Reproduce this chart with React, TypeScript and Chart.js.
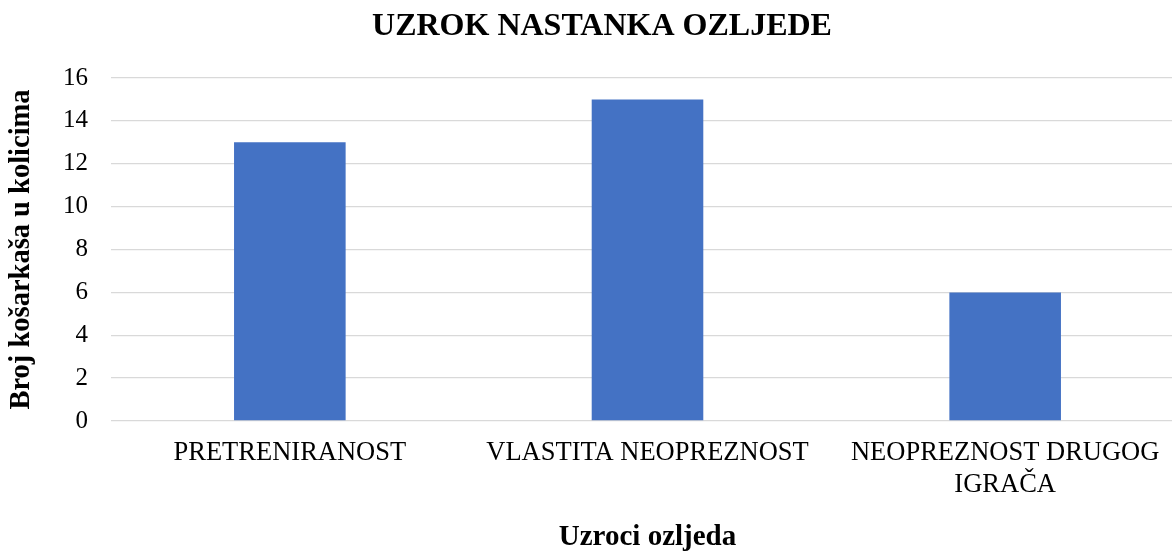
import React, { useEffect, useRef } from "react";
import { Chart, registerables } from "chart.js";

Chart.register(...registerables);

const categories: (string | string[])[] = [
  "PRETRENIRANOST",
  "VLASTITA NEOPREZNOST",
  ["NEOPREZNOST DRUGOG", "IGRAČA"],
];
const values: number[] = [13, 15, 6];
const yTicks = { min: 0, max: 16, step: 2 };
const chartTitle = "UZROK NASTANKA OZLJEDE";
const xTitle = "Uzroci ozljeda";
const yTitle = "Broj košarkaša u kolicima";

const FONT = '"Liberation Serif", "Times New Roman", serif';
const W = 1206;
const H = 554;

export default function App() {
  const ref = useRef<HTMLCanvasElement | null>(null);

  useEffect(() => {
    if (!ref.current) return;
    const chart = new Chart(ref.current, {
      type: "bar",
      data: {
        labels: categories,
        datasets: [
          {
            data: values,
            backgroundColor: "#4472C4",
            borderWidth: 0,
            categoryPercentage: 1,
            barPercentage: 0.312,
          },
        ],
      },
      options: {
        responsive: false,
        animation: false,
        layout: { padding: { left: 20, right: 22, top: 0, bottom: 0 } },
        plugins: {
          legend: { display: false },
          tooltip: { enabled: false },
          title: {
            display: true,
            text: chartTitle,
            color: "#000",
            font: { family: FONT, size: 32, weight: "bold", lineHeight: 1.2 },
            padding: { top: 8, bottom: 31.6 },
          },
        },
        scales: {
          x: {
            grid: { display: false, drawTicks: false },
            border: { display: false },
            ticks: {
              color: "#000",
              padding: 16,
              maxRotation: 0,
              autoSkip: false,
              font: { family: FONT, size: 26.5, lineHeight: 1.2 },
            },
            title: {
              display: true,
              text: xTitle,
              color: "#000",
              font: { family: FONT, size: 29, weight: "bold", lineHeight: 1 },
              padding: { top: 0, bottom: 1.5 },
            },
            afterFit: (scale: any) => {
              scale.height = 133;
            },
          },
          y: {
            min: yTicks.min,
            max: yTicks.max,
            grid: { color: "#d9d9d9", lineWidth: 1.3, drawTicks: false },
            border: { display: false },
            ticks: {
              stepSize: yTicks.step,
              color: "#000",
              padding: 23,
              font: { family: FONT, size: 25 },
            },
            title: {
              display: true,
              text: yTitle,
              color: "#000",
              font: { family: FONT, size: 28.5, weight: "bold", lineHeight: 1 },
              padding: { top: -12.25, bottom: 0 },
            },
            afterFit: (scale: any) => {
              scale.width = 91;
            },
          },
        },
      },
    });
    return () => chart.destroy();
  }, []);

  return (
    <div
      style={{
        position: "absolute",
        left: 0,
        top: 0,
        width: 1172,
        height: 554,
        overflow: "hidden",
        background: "#fff",
      }}
    >
      <canvas ref={ref} width={W} height={H} style={{ width: W, height: H, display: "block" }} />
    </div>
  );
}
